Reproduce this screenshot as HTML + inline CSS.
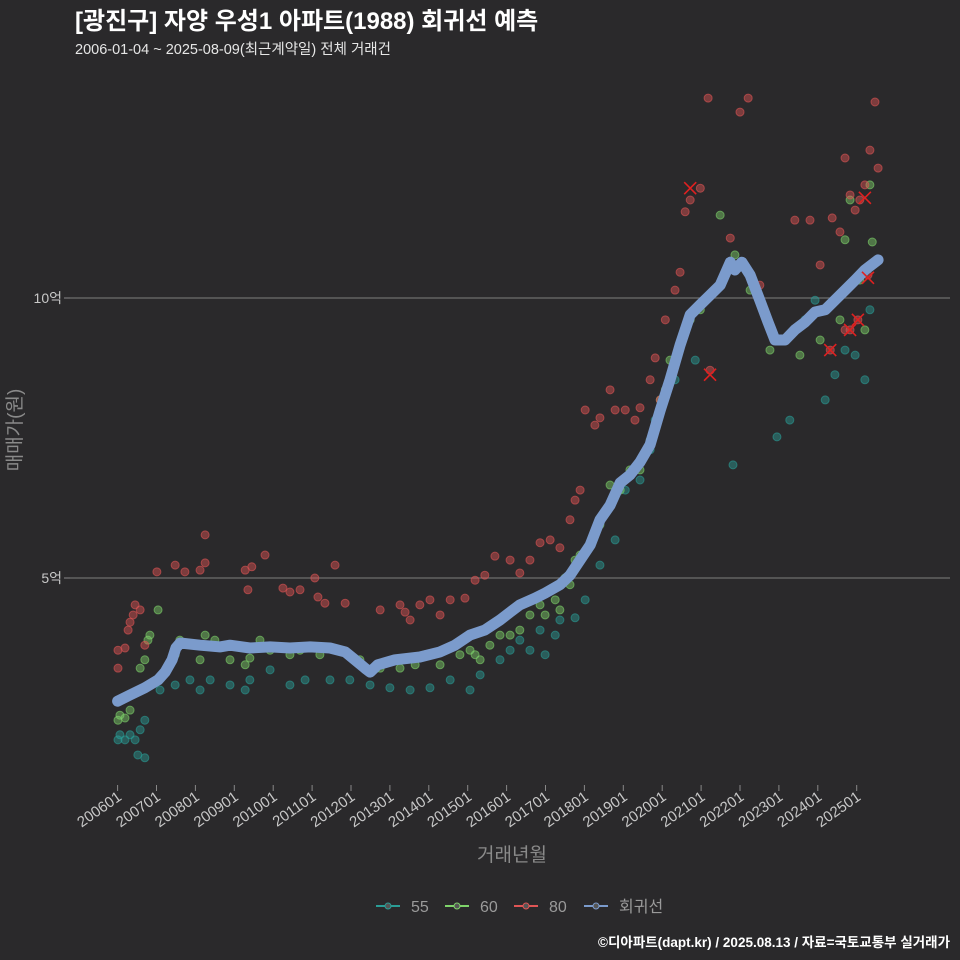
<!DOCTYPE html>
<html><head><meta charset="utf-8">
<style>
html,body{margin:0;padding:0;background:#2a292b;}
svg{display:block;font-family:"Liberation Sans","Noto Sans CJK KR",sans-serif;}
</style></head>
<body>
<svg id="chart" width="960" height="960" viewBox="0 0 960 960">
<rect width="960" height="960" fill="#2a292b"/>
<text x="75" y="29" fill="#ffffff" font-size="24" font-weight="bold">[광진구] 자양 우성1 아파트(1988) 회귀선 예측</text>
<text x="75" y="54" fill="#e6e6e6" font-size="14.5">2006-01-04 ~ 2025-08-09(최근계약일) 전체 거래건</text>
<g id="grid"></g>
<g id="pts"></g>
<g id="line"></g>
<g id="xmarks"></g>
<g id="axes"></g>
<text transform="translate(21,430) rotate(-90)" text-anchor="middle" fill="#8a8a8a" font-size="19">매매가(원)</text>
<text x="512" y="861" text-anchor="middle" fill="#8a8a8a" font-size="19">거래년월</text>
<g id="legend"></g>
<text x="950" y="947" text-anchor="end" fill="#ffffff" font-size="13.5" font-weight="bold">©디아파트(dapt.kr) / 2025.08.13 / 자료=국토교통부 실거래가</text>
</svg>
<script>
const yTicks=[5,10];
const yTickLabels=["5억","10억"];
const xTickLabels=["200601","200701","200801","200901","201001","201101","201201","201301","201401","201501","201601","201701","201801","201901","202001","202101","202201","202301","202401","202501"];
const regYears=[2006.0,2006.32,2006.70,2007.04,2007.22,2007.40,2007.50,2007.61,2008.12,2008.63,2008.89,2009.40,2009.92,2010.43,2010.95,2011.46,2011.85,2012.10,2012.36,2012.49,2012.69,2013.13,2013.77,2014.29,2014.67,2015.06,2015.44,2015.83,2016.09,2016.34,2016.73,2016.99,2017.37,2017.63,2017.89,2018.15,2018.40,2018.66,2018.92,2019.17,2019.43,2019.69,2019.95,2020.20,2020.46,2020.72,2020.98,2021.23,2021.49,2021.75,2021.87,2022.05,2022.26,2022.51,2022.72,2022.90,2023.16,2023.41,2023.67,2023.93,2024.19,2024.44,2024.70,2024.96,2025.21,2025.55];
const regValues=[2.80,2.91,3.04,3.18,3.32,3.54,3.75,3.84,3.80,3.77,3.80,3.75,3.77,3.75,3.77,3.75,3.68,3.54,3.39,3.32,3.45,3.54,3.59,3.68,3.80,3.98,4.07,4.25,4.39,4.52,4.64,4.73,4.88,5.05,5.32,5.59,6.04,6.30,6.70,6.84,7.07,7.38,8.0,8.54,9.16,9.70,9.88,10.05,10.23,10.64,10.50,10.64,10.41,9.96,9.57,9.25,9.25,9.43,9.57,9.75,9.79,9.96,10.14,10.32,10.50,10.68];
const s80Years=[2006.01,2006.01,2006.19,2006.27,2006.32,2006.40,2006.45,2006.58,2006.70,2007.01,2007.48,2007.73,2008.12,2008.25,2008.25,2009.28,2009.35,2009.45,2009.79,2010.25,2010.43,2010.69,2011.07,2011.15,2011.33,2011.59,2011.85,2012.75,2013.26,2013.39,2013.52,2013.77,2014.03,2014.29,2014.55,2014.93,2015.19,2015.44,2015.70,2016.09,2016.34,2016.60,2016.86,2017.12,2017.37,2017.63,2017.76,2017.89,2018.02,2018.27,2018.40,2018.66,2018.79,2019.05,2019.30,2019.43,2019.69,2019.82,2019.95,2020.08,2020.33,2020.46,2020.59,2020.72,2020.98,2021.18,2021.23,2021.75,2022.00,2022.21,2022.51,2023.41,2023.80,2024.06,2024.37,2024.57,2024.70,2024.83,2024.96,2025.08,2025.21,2025.34,2025.55,2024.32,2024.70,2024.83,2025.03,2025.29,2025.47];
const s80Values=[3.71,3.39,3.75,4.07,4.21,4.34,4.52,4.43,3.80,5.11,5.23,5.11,5.14,5.27,5.77,5.14,4.79,5.20,5.41,4.82,4.75,4.79,5.0,4.66,4.55,5.23,4.55,4.43,4.52,4.39,4.25,4.52,4.61,4.34,4.61,4.64,4.96,5.05,5.39,5.32,5.09,5.32,5.63,5.68,5.54,6.04,6.39,6.57,8.0,7.73,7.86,8.36,8.0,8.0,7.82,8.04,8.54,8.93,8.18,9.61,10.14,10.46,11.54,11.75,11.96,13.57,8.71,11.07,13.32,13.57,10.23,11.39,11.39,10.59,11.43,11.18,12.5,11.84,11.57,11.75,12.02,12.64,12.32,9.07,9.43,9.43,9.61,10.41,13.50];
const s60Years=[2006.01,2006.06,2006.19,2006.32,2006.58,2006.70,2006.78,2006.83,2007.04,2007.48,2007.60,2008.12,2008.25,2008.50,2008.89,2009.28,2009.40,2009.66,2009.92,2010.43,2010.69,2011.20,2011.72,2012.23,2012.75,2013.26,2013.65,2013.90,2014.29,2014.80,2015.06,2015.19,2015.32,2015.57,2015.83,2016.09,2016.34,2016.60,2016.86,2016.99,2017.25,2017.37,2017.50,2017.63,2017.76,2017.89,2018.15,2018.40,2018.66,2018.92,2019.17,2019.43,2019.69,2019.82,2019.95,2020.08,2020.20,2020.46,2020.72,2020.98,2021.49,2021.87,2022.26,2022.77,2023.54,2024.06,2024.57,2024.70,2024.83,2025.34,2025.08,2025.21,2025.40];
const s60Values=[2.46,2.55,2.50,2.64,3.39,3.54,3.89,3.98,4.43,3.63,3.89,3.54,3.98,3.89,3.54,3.45,3.57,3.89,3.71,3.63,3.71,3.63,3.71,3.54,3.39,3.39,3.45,3.63,3.45,3.63,3.71,3.63,3.54,3.80,3.98,3.98,4.07,4.34,4.52,4.34,4.61,4.43,5.0,4.88,5.32,5.41,5.59,5.95,6.66,6.57,6.93,6.93,7.46,7.64,8.18,8.36,8.89,9.16,9.61,9.79,11.48,10.77,10.14,9.07,8.98,9.25,9.61,11.04,11.75,12.02,10.32,9.43,11.0];
const s55Years=[2006.01,2006.06,2006.19,2006.32,2006.45,2006.58,2006.70,2006.52,2006.70,2007.09,2007.48,2007.86,2008.12,2008.38,2008.89,2009.28,2009.40,2009.92,2010.43,2010.82,2011.46,2011.97,2012.49,2013.00,2013.52,2014.03,2014.55,2015.06,2015.32,2015.83,2016.09,2016.34,2016.60,2016.86,2016.99,2017.25,2017.37,2017.76,2018.02,2018.40,2018.79,2019.05,2019.43,2019.69,2019.82,2019.95,2020.33,2020.85,2021.82,2022.95,2023.28,2023.67,2023.93,2024.19,2024.44,2024.70,2024.96,2025.21,2025.34];
const s55Values=[2.11,2.20,2.11,2.20,2.11,2.29,2.46,1.84,1.79,3.0,3.09,3.18,3.0,3.18,3.09,3.0,3.18,3.36,3.09,3.18,3.18,3.18,3.09,3.04,3.0,3.04,3.18,3.0,3.27,3.54,3.71,3.89,3.71,4.07,3.63,3.98,4.25,4.29,4.61,5.23,5.68,6.57,6.75,7.29,7.82,8.0,8.54,8.89,7.02,7.52,7.82,9.61,9.96,8.18,8.63,9.07,8.98,8.54,9.79];
const cancelYears=[2020.72,2021.23,2024.32,2024.83,2025.03,2025.21,2025.29];
const cancelValues=[11.96,8.63,9.07,9.43,9.61,11.79,10.36];

const NS="http://www.w3.org/2000/svg";
const X0=117.6, PXY=38.9, Y5=578, PXV=56;
function xs(t){return X0+(t-2006)*PXY;}
function ys(v){return Y5-(v-5)*PXV;}
function mk(tag,attrs,parent){const e=document.createElementNS(NS,tag);for(const k in attrs)e.setAttribute(k,attrs[k]);parent.appendChild(e);return e;}
const grid=document.getElementById('grid'),axes=document.getElementById('axes');
yTicks.forEach((v,i)=>{
  const l=mk('line',{x1:70,x2:950,y1:ys(v),y2:ys(v),stroke:'#6e6e6e','stroke-width':1.2},grid);
  
  
  const tk=mk('line',{x1:64,x2:70,y1:ys(v),y2:ys(v),stroke:'#888'},axes);
  
  
  const t=mk('text',{x:62,y:ys(v)+5,'text-anchor':'end',fill:'#c8c8c8','font-size':14},axes);
  t.textContent=yTickLabels[i];
  
  
});
xTickLabels.forEach((lab,i)=>{
  const x=xs(2006+i);
  const tk=mk('line',{x1:x,x2:x,y1:785,y2:791,stroke:'#888'},axes);
  
  
  const t=mk('text',{transform:`translate(${x+5},${799}) rotate(-35)`,'text-anchor':'end',fill:'#c8c8c8','font-size':15},axes);
  t.textContent=lab;
  
  
});
const pts=document.getElementById('pts');
function series(yrs,vals,col,name){
  const g=mk('g',{},pts);
  
  
  yrs.forEach((t,i)=>{
    const c=mk('circle',{cx:xs(t),cy:ys(vals[i]),r:4,fill:col,'fill-opacity':0.45,stroke:col,'stroke-opacity':0.6,'stroke-width':1},g);
    
    
  });
}
series(s55Years,s55Values,'#2a9d96','series-55');
series(s60Years,s60Values,'#7ed36a','series-60');
series(s80Years,s80Values,'#e05555','series-80');
const lineG=document.getElementById('line');
let d=regYears.map((t,i)=>(i?'L':'M')+xs(t).toFixed(1)+','+ys(regValues[i]).toFixed(1)).join(' ');
const p=mk('path',{d:d,fill:'none',stroke:'#7b9bcc','stroke-width':11,'stroke-linejoin':'round','stroke-linecap':'round'},lineG);


const xm=document.getElementById('xmarks');
cancelYears.forEach((t,i)=>{
  const x=xs(t),y=ys(cancelValues[i]);
  const e=mk('path',{d:`M${x-6},${y-6}L${x+6},${y+6}M${x+6},${y-6}L${x-6},${y+6}`,stroke:'#e02020','stroke-width':1.6},xm);
  
  
});
const leg=document.getElementById('legend');
const legLabels=["55","60","80","회귀선"];
const legCols=['#2a9d96','#7ed36a','#e05555','#7b9bcc'];
const legX=[376,445,514,584];
legLabels.forEach((lab,i)=>{
  const g=mk('g',{},leg);
  
  
  mk('line',{x1:legX[i],x2:legX[i]+24,y1:906,y2:906,stroke:legCols[i],'stroke-width':2},g);
  mk('circle',{cx:legX[i]+12,cy:906,r:3,fill:'#555',stroke:legCols[i]},g);
  const t=mk('text',{x:legX[i]+35,y:912,fill:'#9a9a9a','font-size':16},g);
  t.textContent=lab;
});
</script>
</body></html>
